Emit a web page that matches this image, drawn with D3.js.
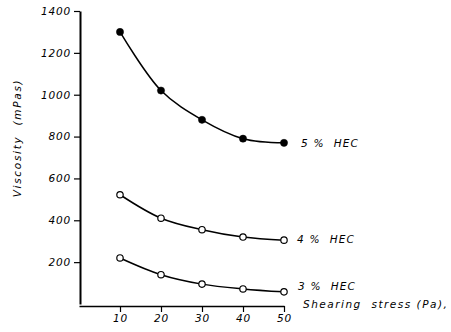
<!DOCTYPE html>
<html>
<head>
<meta charset="utf-8">
<script src="https://cdn.jsdelivr.net/npm/d3@7"></script>
<style>
  html, body { margin: 0; padding: 0; background: #fff; }
  svg { display: block; }
  text { font-family: "DejaVu Sans", "Liberation Sans", sans-serif; font-style: italic; fill: #000; white-space: pre; }
</style>
</head>
<body>
<svg id="chart" width="451" height="332"></svg>
<script>
// Data
const shearStress = [10, 20, 30, 40, 50];
const hec5 = [1300, 1020, 880, 790, 770];
const hec4 = [522, 410, 355, 320, 305];
const hec3 = [220, 140, 95, 72, 58];
const seriesLabels = ["5 %  HEC", "4 %  HEC", "3 %  HEC"];
const yTicks = [200, 400, 600, 800, 1000, 1200, 1400];
const xTicks = [10, 20, 30, 40, 50];
const yTitle = "Viscosity  (mPas)";
const xTitle = "Shearing  stress (Pa),";

const svg = d3.select("#chart");
const x = d3.scaleLinear().domain([0, 50]).range([79, 284]);
const y = d3.scaleLinear().domain([0, 1400]).range([304, 11]);

// Y axis
const yAxis = svg.append("g")
  .attr("transform", "translate(80,0)")
  .call(d3.axisLeft(y).tickValues(yTicks).tickSize(6).tickSizeOuter(0).tickPadding(3).tickFormat(d3.format("d")));
yAxis.select(".domain").attr("stroke", "#000").attr("stroke-width", 2);
yAxis.selectAll(".tick line").attr("stroke", "#000").attr("stroke-width", 1.2);
yAxis.selectAll(".tick text").attr("font-size", 10.5).attr("font-family", "DejaVu Sans, sans-serif")
  .attr("font-style", "italic").attr("letter-spacing", 0.8);

// X axis
const xAxis = svg.append("g")
  .attr("transform", "translate(0,306)")
  .call(d3.axisBottom(x).tickValues(xTicks).tickSize(6).tickSizeOuter(0).tickPadding(3).tickFormat(d3.format("d")));
xAxis.select(".domain").attr("stroke", "#000").attr("stroke-width", 1.3);
xAxis.selectAll(".tick line").attr("stroke", "#000").attr("stroke-width", 1.2);
xAxis.selectAll(".tick text").attr("font-size", 10.5).attr("font-family", "DejaVu Sans, sans-serif")
  .attr("font-style", "italic").attr("letter-spacing", 0.8);

// Axis titles
svg.append("text")
  .attr("transform", "translate(21,138) rotate(-90)")
  .attr("text-anchor", "middle")
  .attr("font-size", 10.5)
  .attr("letter-spacing", 1.7)
  .text(yTitle);
svg.append("text")
  .attr("x", 303).attr("y", 308)
  .attr("font-size", 10.5)
  .attr("letter-spacing", 1.5)
  .text(xTitle);

const line = d3.line()
  .x((d, i) => x(shearStress[i]))
  .y(d => y(d))
  .curve(d3.curveCatmullRom.alpha(0.5));

const series = [
  { values: hec5, filled: true, label: seriesLabels[0], lx: 301, ly: 147 },
  { values: hec4, filled: false, label: seriesLabels[1], lx: 297, ly: 243 },
  { values: hec3, filled: false, label: seriesLabels[2], lx: 298, ly: 290 }
];

series.forEach(s => {
  svg.append("path")
    .datum(s.values)
    .attr("d", line)
    .attr("fill", "none")
    .attr("stroke", "#000")
    .attr("stroke-width", 1.5);
  svg.selectAll(null)
    .data(s.values)
    .enter().append("circle")
    .attr("cx", (d, i) => x(shearStress[i]))
    .attr("cy", d => y(d))
    .attr("r", s.filled ? 3.6 : 3.2)
    .attr("fill", s.filled ? "#000" : "#fff")
    .attr("stroke", "#000")
    .attr("stroke-width", s.filled ? 0.5 : 1.2);
  svg.append("text")
    .attr("x", s.lx).attr("y", s.ly)
    .attr("font-size", 10.5)
    .attr("letter-spacing", 1.2)
    .text(s.label);
});
</script>
</body>
</html>
